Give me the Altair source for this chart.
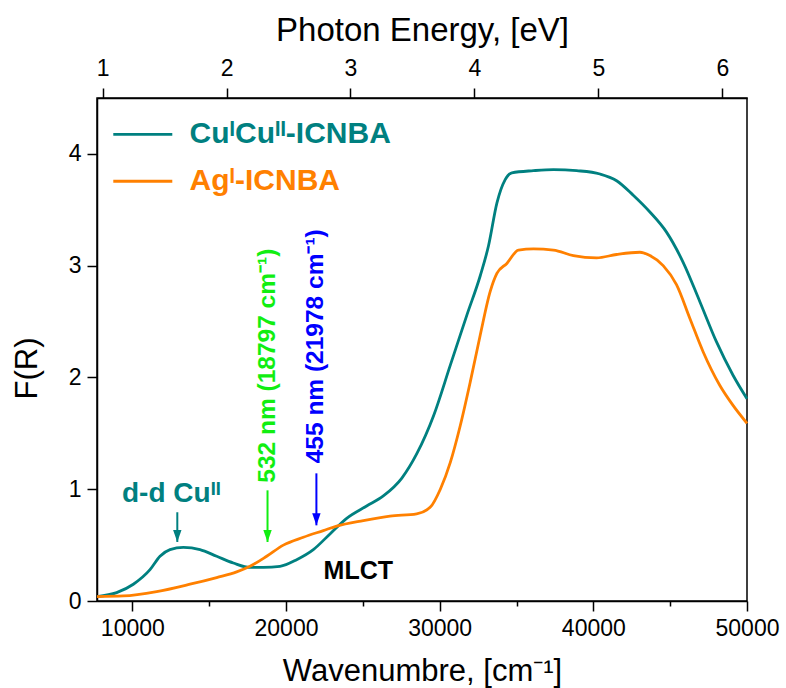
import altair as alt
import pandas as pd

# ---------------- data ----------------
teal_wn = [7700, 8980, 10065, 11150, 11800, 12451, 13319, 14403, 15488, 16573, 17657,
           18525, 19610, 20694, 21779, 22863, 23948, 25249, 26334, 27540, 28520, 29610,
           30693, 31775, 32641, 33182, 33723, 34264, 34697, 36104, 37403, 38918, 40433,
           41515, 42597, 43680, 44762, 45844, 46926, 48009, 49091, 50000]
teal_F = [0.04, 0.075, 0.15, 0.28, 0.40, 0.46, 0.48, 0.46, 0.40, 0.34, 0.30,
          0.30, 0.31, 0.37, 0.46, 0.60, 0.74, 0.85, 0.94, 1.10, 1.32, 1.66,
          2.11, 2.56, 2.91, 3.18, 3.56, 3.77, 3.83, 3.85, 3.86, 3.85, 3.82,
          3.76, 3.63, 3.48, 3.30, 3.03, 2.68, 2.32, 2.02, 1.81]

orange_wn = [7700, 9414, 11584, 13753, 15488, 16790, 17657, 18742, 19827, 21128, 22430,
             23297, 25033, 26768, 28503, 29394, 30043, 30693, 31342, 31991, 32641, 33290,
             33723, 34372, 35130, 36104, 37403, 38701, 40216, 41515, 43030, 43680, 44545,
             45411, 46277, 47143, 48225, 49091, 50000]
orange_F = [0.04, 0.045, 0.084, 0.15, 0.21, 0.26, 0.31, 0.40, 0.50, 0.57, 0.63,
            0.67, 0.72, 0.76, 0.78, 0.84, 1.00, 1.24, 1.57, 1.96, 2.38, 2.77,
            2.93, 3.02, 3.14, 3.15, 3.14, 3.09, 3.07, 3.10, 3.12, 3.09, 3.00,
            2.83, 2.53, 2.23, 1.93, 1.75, 1.59]

series_names = ["Cu\u1d35Cu\u1d35\u1d35-ICNBA", "Ag\u1d35-ICNBA"]
series_colors = ["#008080", "#FF8000"]

x_ticks = [10000, 15000, 20000, 25000, 30000, 35000, 40000, 45000, 50000]
y_ticks = [0, 0.5, 1, 1.5, 2, 2.5, 3, 3.5, 4]
ev_ticks = [1, 1.5, 2, 2.5, 3, 3.5, 4, 4.5, 5, 5.5, 6]

CM_PER_EV = 8065.54
x_domain = [7700, 50000]
y_domain = [0, 4.5]
ev_domain = [x_domain[0] / CM_PER_EV, x_domain[1] / CM_PER_EV]

FONT = "Liberation Sans"
TEAL, ORANGE, GREEN, BLUE = "#008080", "#FF8000", "#11EE11", "#0000FF"

curve_df = pd.concat([
    pd.DataFrame({"wn": teal_wn, "F": teal_F, "series": series_names[0]}),
    pd.DataFrame({"wn": orange_wn, "F": orange_F, "series": series_names[1]}),
])

# ---------------- shared encodings ----------------
def tick_size(test):
    return {"condition": {"test": test, "value": 10}, "value": 5}

common_axis = dict(grid=False, domainColor="black", domainWidth=1.5, tickColor="black",
                   tickWidth=1.5, labelFont=FONT, labelFontSize=23, labelColor="black",
                   labelFlush=False, labelOverlap=False, titleFont=FONT,
                   titleFontWeight="normal", titleColor="black")

xaxis = alt.Axis(title="Wavenumbre, [cm\u207b\u00b9]", values=x_ticks, format="d",
                 labelExpr="datum.value % 10000 === 0 ? datum.label : ''",
                 tickSize=tick_size("datum.value % 10000 === 0"), labelPadding=6,
                 titleFontSize=31, titleY=79, titleBaseline="alphabetic", **common_axis)
yaxis = alt.Axis(title="F(R)", values=y_ticks, format="d",
                 labelExpr="datum.value % 1 === 0 ? datum.label : ''",
                 tickSize=tick_size("datum.value % 1 === 0"), labelPadding=6,
                 titleFontSize=31, titleAngle=270, titleAlign="center",
                 titleBaseline="middle", titleX=-70, titleY=270, **common_axis)
evaxis = alt.Axis(title="Photon Energy, [eV]", orient="top", values=ev_ticks, format="d",
                  labelExpr="datum.value % 1 === 0 ? datum.label : ''",
                  tickSize=tick_size("datum.value % 1 === 0"), labelPadding=8,
                  titleFontSize=33, titleY=-58, titleBaseline="alphabetic", **common_axis)

X = alt.X("wn:Q", scale=alt.Scale(domain=x_domain, nice=False, zero=False), axis=xaxis)
Y = alt.Y("F:Q", scale=alt.Scale(domain=y_domain, nice=False, zero=False), axis=yaxis)
COLOR = alt.Color("series:N", scale=alt.Scale(domain=series_names, range=series_colors),
                  legend=None)

# ---------------- layers ----------------
curves = alt.Chart(curve_df).mark_line(strokeWidth=2.8, interpolate="monotone").encode(
    x=X, y=Y, color=COLOR)

leg_df = pd.DataFrame({"series": series_names, "wn": [8760, 8760], "wn2": [12600, 12600],
                       "F": [4.175, 3.755]})
leg_rule = alt.Chart(leg_df).mark_rule(strokeWidth=2.8).encode(
    x=X, x2="wn2", y=Y, color=COLOR)
leg_txt_df = pd.DataFrame({"series": series_names, "wn": [13727, 13727], "F": [4.175, 3.755]})
leg_text = alt.Chart(leg_txt_df).mark_text(
    align="left", baseline="middle", font=FONT, fontSize=30, fontWeight="bold").encode(
    x=X, y=Y, text="series:N", color=COLOR)

ARROW_PATH = "M -0.35 -1 L 0.35 -1 L 0 0 Z"

def arrow(wn, f_top, f_tip, color):
    df = pd.DataFrame({"wn": [wn], "F": [f_top], "F2": [f_tip]})
    line = alt.Chart(df).mark_rule(strokeWidth=2, color=color).encode(x=X, y=Y, y2="F2")
    head = alt.Chart(df).mark_point(shape=ARROW_PATH, size=576, filled=True, opacity=1,
                                    color=color, strokeWidth=0).encode(
        x=X, y=alt.Y("F2:Q", scale=alt.Scale(domain=y_domain, nice=False, zero=False),
                      axis=yaxis))
    return [line, head]

def label(wn, f, text, color, size, align="left", baseline="alphabetic", angle=0):
    df = pd.DataFrame({"wn": [wn], "F": [f], "t": [text]})
    return alt.Chart(df).mark_text(align=align, baseline=baseline, angle=angle, font=FONT,
                                   fontSize=size, fontWeight="bold", color=color).encode(
        x=X, y=Y, text="t:N")

annos = []
annos += arrow(12926, 0.794, 0.528, TEAL)
annos += arrow(18797, 0.990, 0.528, GREEN)
annos += arrow(21978, 1.142, 0.677, BLUE)
annos.append(label(9327, 0.886, "d-d Cu\u1d35\u1d35", TEAL, 28))
annos.append(label(18797, 1.058, "532 nm (18797 cm\u207b\u00b9)", GREEN, 24.5,
                   baseline="middle", angle=270))
annos.append(label(21978, 1.232, "455 nm (21978 cm\u207b\u00b9)", BLUE, 24.5,
                   baseline="middle", angle=270))
annos.append(label(24706, 0.20, "MLCT", "black", 25, align="center"))

main = alt.layer(curves, leg_rule, leg_text, *annos)

top_df = pd.DataFrame({"ev": [1, 2, 3, 4, 5, 6]})
top = alt.Chart(top_df).mark_point(opacity=0).encode(
    x=alt.X("ev:Q", scale=alt.Scale(domain=ev_domain, nice=False, zero=False), axis=evaxis),
    y=alt.value(0))

chart = alt.layer(main, top).resolve_scale(x="independent").properties(
    width=650, height=503,
    padding={"left": 97, "top": 98, "right": 39, "bottom": 87},
    autosize=alt.AutoSizeParams(type="none"),
    background="white",
).configure_view(stroke="black", strokeWidth=1.5)

chart.save("out.html", embed_options={"renderer": "svg", "actions": False})
